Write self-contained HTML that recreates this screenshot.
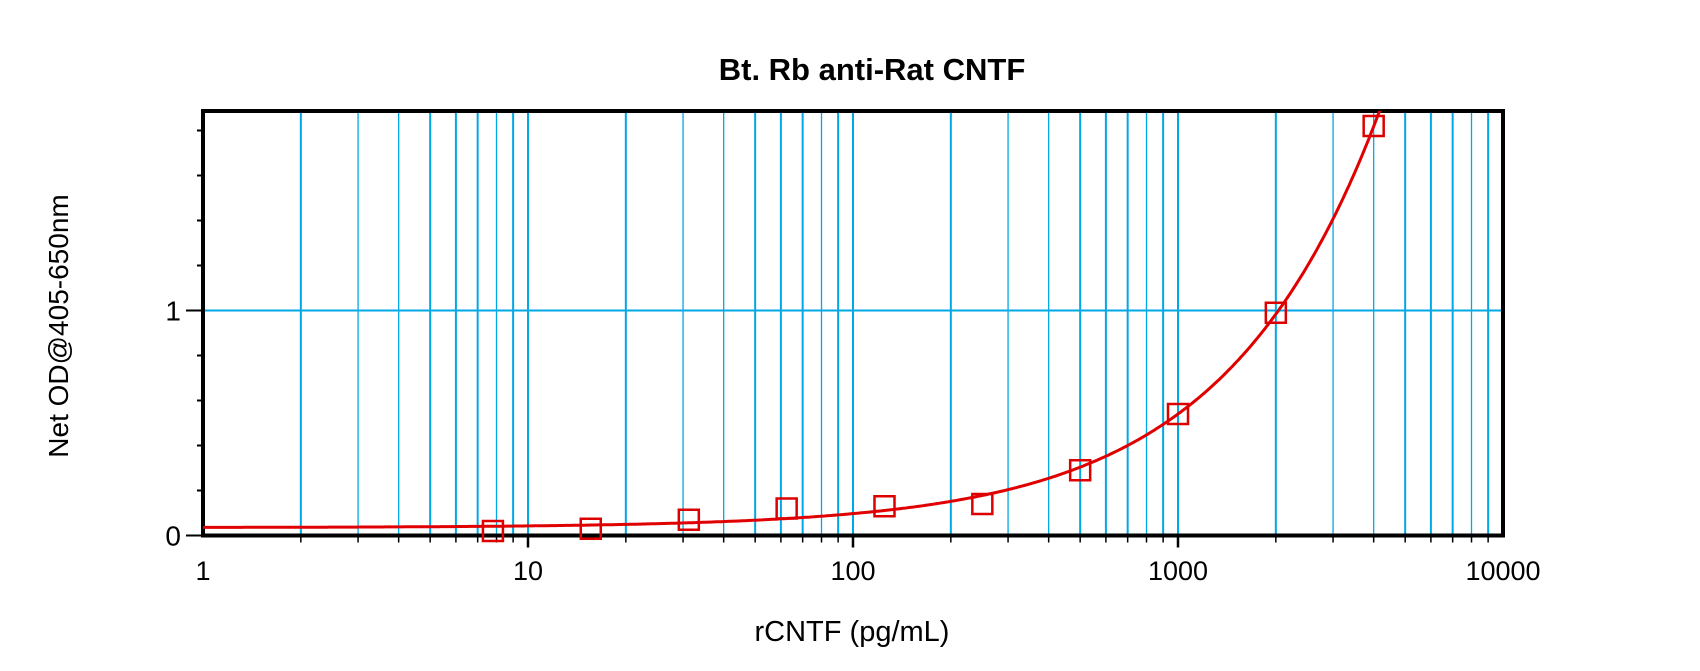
<!DOCTYPE html>
<html><head><meta charset="utf-8"><style>
html,body{margin:0;padding:0;background:#fff;}
svg{display:block;font-family:"Liberation Sans",Arial,sans-serif;}
</style></head><body>
<svg id="chart" width="1700" height="671" viewBox="0 0 1700 671">
<text x="872" y="80" text-anchor="middle" font-size="31" font-weight="bold">Bt. Rb anti-Rat CNTF</text>
<text x="852" y="641" text-anchor="middle" font-size="29">rCNTF (pg/mL)</text>
<text transform="translate(68,326) rotate(-90)" text-anchor="middle" font-size="28">Net OD@405-650nm</text>
<g id="grid"></g><g id="axes"></g><g id="series"></g>
</svg>
<script>
const concentrations=[7.8,15.6,31.25,62.5,125,250,500,1000,2000,4000];
const odValues=[0.02,0.03,0.07,0.12,0.13,0.14,0.29,0.54,0.99,1.82];
const xTickLabels=["1","10","100","1000","10000"];
const xTickValues=[1,10,100,1000,10000];
const yTickLabels=["0","1"];
const yTickValues=[0,1];
const fitBaseline=[0.035];
const fitScale=[0.505];
const fitExponent=[0.91];
const fitRef=[1000];

const L=203,R=1503,T=111,B=535.5,YMAX=(B-T)/225;
const ns="http://www.w3.org/2000/svg";
function X(v){return L+(Math.log10(v)-0)/4*(R-L);}
function Y(v){return B-v/YMAX*(B-T);}
function mk(tag,attrs,parent){const e=document.createElementNS(ns,tag);for(const k in attrs)e.setAttribute(k,attrs[k]);parent.appendChild(e);return e;}
const grid=document.getElementById('grid'),axes=document.getElementById('axes'),series=document.getElementById('series');
const blue="#00a8e6";
for(let d=0;d<4;d++){for(let m=1;m<=9;m++){const v=Math.pow(10,d)*m;if(v===1)continue;const x=X(v);
 const g=mk('line',{x1:x,x2:x,y1:T,y2:B,stroke:blue,'stroke-width':(m===3||m===4||m===8)?1.3:2},grid);
 
 
 const t=mk('line',{x1:x,x2:x,y1:B,y2:B+((m===1)?12:7),stroke:'#000','stroke-width':(m===1)?2.5:1.5},axes);
 
 }}
yTickValues.forEach(v=>{if(v===0)return;const y=Y(v);const g=mk('line',{x1:L,x2:R,y1:y,y2:y,stroke:blue,'stroke-width':2},grid);
 
 });
for(let v=0;v<=YMAX+1e-6;v+=0.2){const y=Y(v);const major=Math.abs(v-Math.round(v))<1e-6;
 const t=mk('line',{x1:L-(major?17:6),x2:L,y1:y,y2:y,stroke:'#000','stroke-width':2},axes);
 
 }
yTickValues.forEach((v,i)=>{const t=mk('text',{x:L-22,y:Y(v)+10,'text-anchor':'end','font-size':28},axes);t.textContent=yTickLabels[i];
 
 });
xTickValues.forEach((v,i)=>{const t=mk('text',{x:X(v),y:580,'text-anchor':'middle','font-size':27},axes);t.textContent=xTickLabels[i];
 
 });
const f=mk('rect',{x:L,y:T,width:R-L,height:B-T,fill:'none',stroke:'#000','stroke-width':4},axes);


const cp=mk('clipPath',{id:'clip'},series);mk('rect',{x:L,y:T,width:R-L,height:B-T},cp);
let d="";for(let i=0;i<=600;i++){const lx=i/600*4;const c=Math.pow(10,lx);const v=fitBaseline[0]+fitScale[0]*Math.pow(c/fitRef[0],fitExponent[0]);if(v>YMAX+0.05)break;d+=(i?"L":"M")+X(c).toFixed(1)+","+Y(v).toFixed(1);}
const p=mk('path',{d:d,fill:'none',stroke:'#e00000','stroke-width':3,'clip-path':'url(#clip)'},series);


concentrations.forEach((c,i)=>{const x=X(c),y=Y(odValues[i]);const r=mk('rect',{x:x-10,y:y-10,width:20,height:20,fill:'none',stroke:'#dd0000','stroke-width':2.5},series);
 
 });
</script>
</body></html>
